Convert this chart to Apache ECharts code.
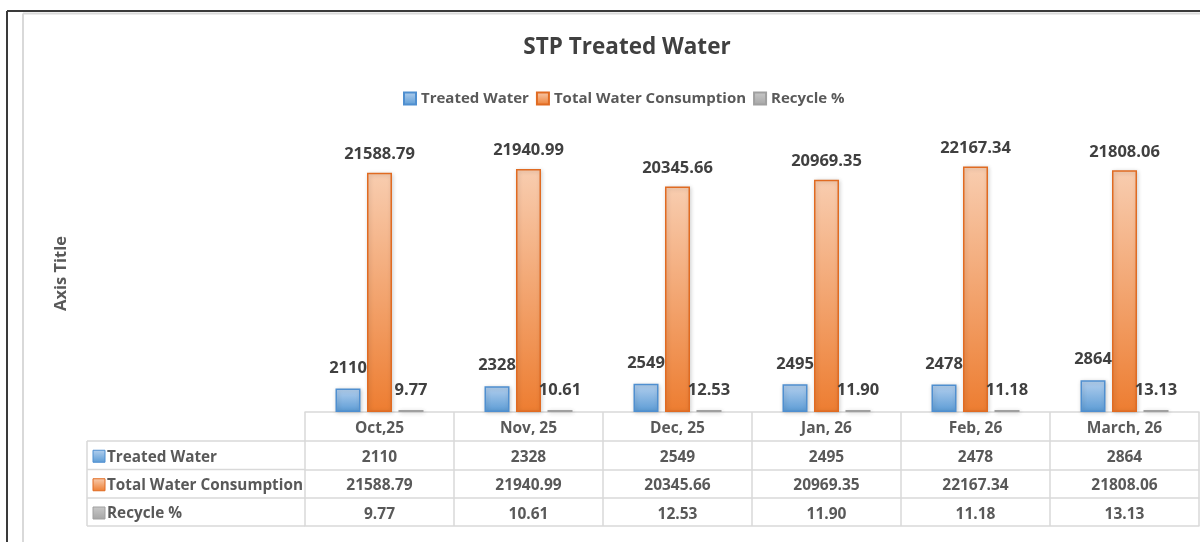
<!DOCTYPE html>
<html>
<head>
<meta charset="utf-8">
<script src="https://cdn.jsdelivr.net/npm/echarts@6/dist/echarts.min.js"></script>
<style>
  html, body { margin: 0; padding: 0; background: #fff; }
  #stpChart { width: 1200px; height: 542px; }
</style>
</head>
<body>
<div id="stpChart"></div>
<script>
var months = ['Oct,25', 'Nov, 25', 'Dec, 25', 'Jan, 26', 'Feb, 26', 'March, 26'];
var treatedWater = [2110, 2328, 2549, 2495, 2478, 2864];
var totalConsumption = [21588.79, 21940.99, 20345.66, 20969.35, 22167.34, 21808.06];
var recyclePct = [9.77, 10.61, 12.53, 11.90, 11.18, 13.13];
var seriesNames = ['Treated Water', 'Total Water Consumption', 'Recycle %'];

var FONT = '"Open Sans", Lato, sans-serif';
var TXT = '#595959';
var LINE = '#d9d9d9';

function grad(top, bottom) {
  return new echarts.graphic.LinearGradient(0, 0, 0, 1, [
    { offset: 0, color: top },
    { offset: 1, color: bottom }
  ]);
}
var fills = [grad('#b4d0ee', '#5b9bd5'), grad('#f8cdb0', '#ed7d31'), grad('#c9c9c9', '#a5a5a5')];
var borders = ['#4f8fd0', '#e06b22', '#a0a0a0'];

// table rows built from the series arrays
var rows = [
  treatedWater.map(function (v) { return String(v); }),
  totalConsumption.map(function (v) { return v.toFixed(2); }),
  recyclePct.map(function (v) { return v.toFixed(2); })
];
var rowTop = 412, rowH = [29, 28.5, 28.5, 28];
var lineOffsets = [29, 57.5, 86, 114];

var myChart = echarts.init(document.getElementById('stpChart'));

var xAxes = [{
  type: 'category',
  data: months,
  gridIndex: 0,
  axisLine: { lineStyle: { color: LINE, width: 1.5 } },
  axisTick: { show: true, length: 114, lineStyle: { color: LINE, width: 1.5 } },
  axisLabel: { margin: 9, fontSize: 15.5, fontWeight: 'bold', color: TXT, fontFamily: FONT, interval: 0 }
}];
lineOffsets.forEach(function (off, i) {
  xAxes.push({
    type: 'category',
    data: i < 3 ? rows[i] : months.map(function () { return ''; }),
    gridIndex: 0,
    position: 'bottom',
    offset: off,
    axisLine: { lineStyle: { color: LINE, width: 1.5 } },
    axisTick: { show: false },
    axisLabel: { show: i < 3, margin: 8.5, fontSize: 15.5, fontWeight: 'bold', color: TXT, fontFamily: FONT, interval: 0 }
  });
});

// left side of the data table: row labels with legend keys
var tableGraphics = [];
var leftX = 87, gridLeft = 305;
var y = rowTop + rowH[0];
for (var r = 0; r < 3; r++) {
  tableGraphics.push({
    type: 'line', shape: { x1: leftX, y1: y, x2: gridLeft, y2: y },
    style: { stroke: LINE, lineWidth: 1.5 }
  });
  tableGraphics.push({
    type: 'rect', shape: { x: leftX + 6, y: y + rowH[r + 1] / 2 - 5, width: 12, height: 12 },
    style: { fill: fills[r], stroke: borders[r], lineWidth: 1 }
  });
  tableGraphics.push({
    type: 'text', x: leftX + 20, y: y + rowH[r + 1] / 2 + 2,
    style: { text: seriesNames[r], font: 'bold 15.3px ' + FONT, fill: TXT, verticalAlign: 'middle' }
  });
  y += rowH[r + 1];
}
tableGraphics.push({
  type: 'line', shape: { x1: leftX, y1: y, x2: gridLeft, y2: y },
  style: { stroke: LINE, lineWidth: 1.5 }
});
tableGraphics.push({
  type: 'line', shape: { x1: leftX, y1: rowTop + rowH[0], x2: leftX, y2: y },
  style: { stroke: LINE, lineWidth: 1.5 }
});
// chart frame
tableGraphics.push({ type: 'line', shape: { x1: 7, y1: 11, x2: 1200, y2: 11 }, style: { stroke: '#3a3a3a', lineWidth: 2 } });
tableGraphics.push({ type: 'line', shape: { x1: 7, y1: 11, x2: 7, y2: 542 }, style: { stroke: '#3a3a3a', lineWidth: 2 } });
tableGraphics.push({ type: 'line', shape: { x1: 23, y1: 13.5, x2: 1200, y2: 13.5 }, style: { stroke: '#d9d9d9', lineWidth: 2 } });
tableGraphics.push({ type: 'line', shape: { x1: 23, y1: 13.5, x2: 23, y2: 542 }, style: { stroke: '#d9d9d9', lineWidth: 2 } });

var seriesData = [treatedWater, totalConsumption, recyclePct];
var series = seriesData.map(function (d, i) {
  return {
    name: seriesNames[i],
    type: 'bar',
    data: d,
    xAxisIndex: 0,
    barWidth: 25,
    barGap: '26%',
    barMinHeight: i === 2 ? 2 : 0,
    itemStyle: {
      color: fills[i],
      borderColor: borders[i],
      borderWidth: 1.5,
      shadowColor: 'rgba(0,0,0,0.18)',
      shadowBlur: 4,
      shadowOffsetX: 1,
      shadowOffsetY: 1
    },
    label: {
      show: true,
      position: 'top',
      distance: i === 1 ? 10 : (i === 0 ? 12 : 11),
      fontSize: 16.5,
      fontWeight: 'bold',
      color: '#404040',
      fontFamily: FONT,
      formatter: function (p) { return i === 0 ? String(p.value) : p.value.toFixed(2); }
    }
  };
});

var option = {
  backgroundColor: '#fff',
  title: {
    text: 'STP Treated Water',
    left: 622,
    textAlign: 'center',
    top: 31,
    textStyle: { fontSize: 22.5, fontWeight: 'bold', color: '#404040', fontFamily: FONT }
  },
  legend: {
    data: seriesNames,
    left: 398,
    top: 86,
    icon: 'rect',
    itemWidth: 12,
    itemHeight: 12,
    itemGap: 7,
    textStyle: { fontSize: 15, fontWeight: 'bold', color: TXT, fontFamily: FONT, padding: [0, 0, 0, 0] }
  },
  grid: { left: gridLeft, right: 1, top: 135, bottom: 130, containLabel: false },
  xAxis: xAxes,
  yAxis: {
    type: 'value',
    min: 0,
    max: 25000,
    name: 'Axis Title',
    nameLocation: 'middle',
    nameGap: 235,
    nameRotate: 90,
    nameTextStyle: { fontSize: 16.5, fontWeight: 'bold', color: TXT, fontFamily: FONT },
    axisLine: { show: false },
    axisTick: { show: false },
    axisLabel: { show: false },
    splitLine: { show: false }
  },
  graphic: tableGraphics,
  series: series
};
myChart.setOption(option);
</script>
</body>
</html>
